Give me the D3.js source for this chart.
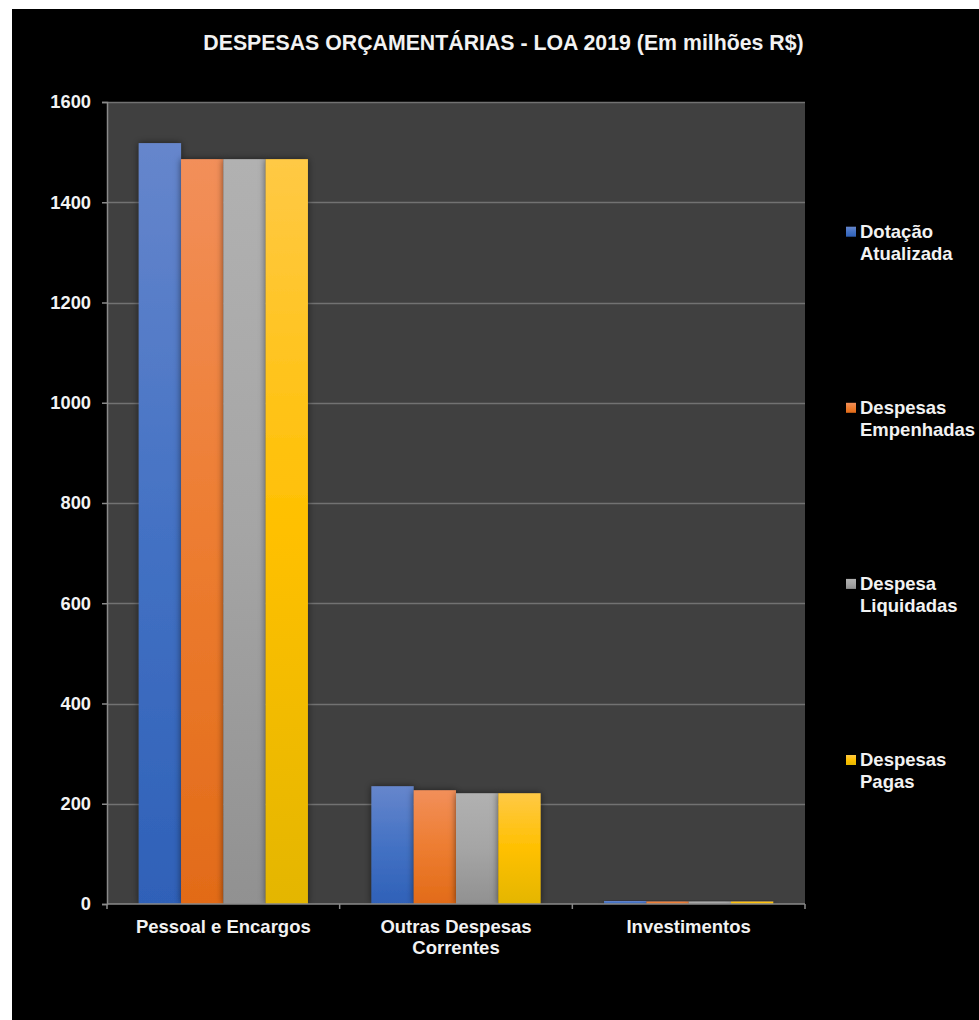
<!DOCTYPE html>
<html>
<head>
<meta charset="utf-8">
<script src="https://cdn.jsdelivr.net/npm/d3@7"></script>
<style>
  html, body { margin: 0; padding: 0; background: #ffffff; }
  svg { display: block; }
  text { font-family: "Liberation Sans", Arial, sans-serif; font-weight: bold; fill: #f2f2f2; }
</style>
</head>
<body>
<svg id="chart" width="979" height="1020"></svg>
<script>
// Despesas orçamentárias – LOA 2019, valores em milhões de R$
const categories = [["Pessoal e Encargos"], ["Outras Despesas", "Correntes"], ["Investimentos"]];
const seriesNames = [["Dotação", "Atualizada"], ["Despesas", "Empenhadas"], ["Despesa", "Liquidadas"], ["Despesas", "Pagas"]];
const dotacaoAtualizada   = [1518, 235, 6];
const despesasEmpenhadas  = [1486, 227, 5];
const despesaLiquidadas   = [1486, 221, 5];
const despesasPagas       = [1486, 221, 5];
const yTicks = [0, 200, 400, 600, 800, 1000, 1200, 1400, 1600];
const chartTitle = "DESPESAS ORÇAMENTÁRIAS - LOA 2019 (Em milhões R$)";

const seriesValues = [dotacaoAtualizada, despesasEmpenhadas, despesaLiquidadas, despesasPagas];
// light top, theme colour in the middle, darker base
const palette = [
  { light: "#6686cc", base: "#4472c4", dark: "#2f61b8" },
  { light: "#f28f5a", base: "#ed7d31", dark: "#e26b18" },
  { light: "#b1b1b1", base: "#a5a5a5", dark: "#919191" },
  { light: "#ffc945", base: "#ffc000", dark: "#e4b600" }
];

const svg = d3.select("#chart");
const defs = svg.append("defs");

palette.forEach((p, i) => {
  const g = defs.append("linearGradient")
    .attr("id", "grad" + i)
    .attr("x1", 0).attr("y1", 0).attr("x2", 0).attr("y2", 1);
  g.append("stop").attr("offset", "0%").attr("stop-color", p.light);
  g.append("stop").attr("offset", "50%").attr("stop-color", p.base);
  g.append("stop").attr("offset", "100%").attr("stop-color", p.dark);
});

const shadow = defs.append("filter").attr("id", "barShadow")
  .attr("x", "-30%").attr("y", "-30%").attr("width", "160%").attr("height", "160%");
shadow.append("feDropShadow")
  .attr("dx", 0).attr("dy", 0).attr("stdDeviation", 3.5)
  .attr("flood-color", "#000").attr("flood-opacity", 0.55);

// chart frame
svg.append("rect").attr("x", 12).attr("y", 9).attr("width", 967).attr("height", 1011).attr("fill", "#000");

const plot = { left: 107, right: 805, top: 102, bottom: 904 };

const x0 = d3.scaleBand().domain(d3.range(categories.length)).range([plot.left, plot.right]).paddingInner(0).paddingOuter(0);
const groupPad = x0.bandwidth() * 0.75 / 5.5;
const x1 = d3.scaleBand().domain(d3.range(seriesNames.length)).range([groupPad, x0.bandwidth() - groupPad]).padding(0);
const y = d3.scaleLinear().domain([0, 1600]).range([plot.bottom, plot.top]);

// plot background
svg.append("rect")
  .attr("x", plot.left).attr("y", plot.top)
  .attr("width", plot.right - plot.left).attr("height", plot.bottom - plot.top)
  .attr("fill", "#404040");

// horizontal gridlines
svg.append("g").selectAll("line")
  .data(yTicks.filter(d => d > 0))
  .join("line")
  .attr("x1", plot.left).attr("x2", plot.right)
  .attr("y1", d => Math.round(y(d)) + 0.5).attr("y2", d => Math.round(y(d)) + 0.5)
  .attr("stroke", "#727272").attr("stroke-width", 1.5);

// bars
const groups = svg.append("g").selectAll("g")
  .data(categories.map((c, i) => i))
  .join("g")
  .attr("transform", i => `translate(${x0(i)},0)`);

groups.selectAll("rect")
  .data(ci => seriesValues.map((vals, si) => ({ si, v: vals[ci] })))
  .join("rect")
  .attr("x", d => x1(d.si))
  .attr("y", d => y(d.v))
  .attr("width", x1.bandwidth())
  .attr("height", d => y(0) - y(d.v))
  .attr("fill", d => `url(#grad${d.si})`)
  .attr("filter", "url(#barShadow)");

// y axis
const yAxis = svg.append("g")
  .attr("transform", `translate(${plot.left},0)`)
  .call(d3.axisLeft(y).tickValues(yTicks).tickSize(5).tickPadding(11).tickFormat(d3.format("d")));
yAxis.select(".domain").attr("stroke", "#8a8a8a").attr("stroke-width", 1.5);
yAxis.selectAll(".tick line").attr("stroke", "#8a8a8a").attr("stroke-width", 1.5);
yAxis.selectAll(".tick text")
  .attr("fill", "#f2f2f2")
  .style("font-family", '"Liberation Sans", Arial, sans-serif')
  .style("font-weight", "bold")
  .style("font-size", "18.3px");

// x axis line with ticks at category boundaries
const xAxis = svg.append("g");
xAxis.append("line")
  .attr("x1", plot.left).attr("x2", plot.right)
  .attr("y1", plot.bottom).attr("y2", plot.bottom)
  .attr("stroke", "#8a8a8a").attr("stroke-width", 1.5);
const boundaries = d3.range(categories.length + 1).map(i => i < categories.length ? x0(i) : x0(i - 1) + x0.bandwidth());
xAxis.selectAll(".xtick")
  .data(boundaries)
  .join("line")
  .attr("x1", d => d).attr("x2", d => d)
  .attr("y1", plot.bottom).attr("y2", plot.bottom + 5)
  .attr("stroke", "#8a8a8a").attr("stroke-width", 1.5);

// category labels
const catLabels = svg.append("g").selectAll("text")
  .data(categories)
  .join("text")
  .attr("x", (d, i) => x0(i) + x0.bandwidth() / 2)
  .attr("y", 933)
  .attr("text-anchor", "middle")
  .style("font-size", "18.5px");
catLabels.selectAll("tspan")
  .data(d => d)
  .join("tspan")
  .attr("x", function () { return this.parentNode.getAttribute("x"); })
  .attr("dy", (d, i) => i === 0 ? 0 : 21)
  .text(d => d);

// title
svg.append("text")
  .attr("x", 503.5).attr("y", 50)
  .attr("text-anchor", "middle")
  .style("font-size", "21.3px")
  .text(chartTitle);

// legend
const ly = d3.scalePoint().domain(d3.range(seriesNames.length)).range([237.7, 766]);
const legend = svg.append("g").selectAll("g")
  .data(seriesNames.map((n, i) => i))
  .join("g")
  .attr("transform", i => `translate(846,${ly(i)})`);
legend.append("rect")
  .attr("x", 0).attr("y", -11).attr("width", 10).attr("height", 10)
  .attr("fill", i => `url(#grad${i})`);
const legendText = legend.append("text")
  .attr("x", 14).attr("y", 0)
  .style("font-size", "18.5px");
legendText.selectAll("tspan")
  .data(i => seriesNames[i])
  .join("tspan")
  .attr("x", 14)
  .attr("dy", (d, i) => i === 0 ? 0 : 22)
  .text(d => d);
</script>
</body>
</html>
